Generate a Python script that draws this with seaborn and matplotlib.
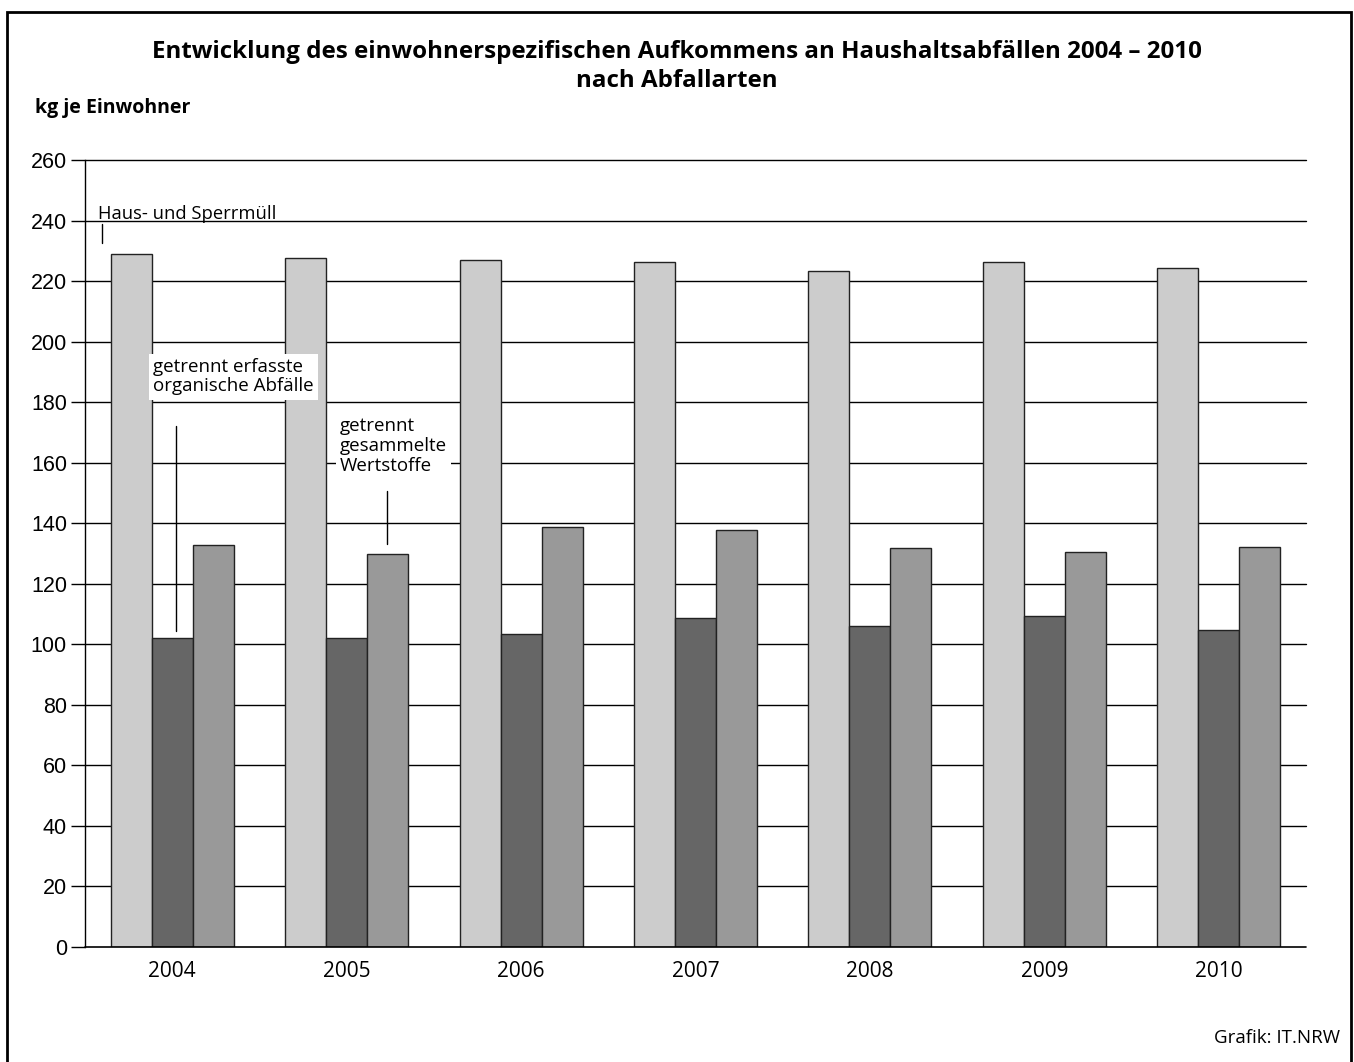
import matplotlib
matplotlib.use("Agg")
import matplotlib.pyplot as plt
import pandas as pd
import seaborn as sns
from matplotlib.patches import Rectangle

# values (kg je Einwohner)
years = ["2004", "2005", "2006", "2007", "2008", "2009", "2010"]
haus_sperrmuell = [229.0, 227.6, 227.0, 226.3, 223.3, 226.3, 224.3]
organisch = [102.0, 102.1, 103.4, 108.7, 106.0, 109.3, 104.7]
wertstoffe = [132.8, 130.0, 138.7, 137.8, 131.8, 130.5, 132.1]
series_names = ["Haus- und Sperrmüll", "getrennt erfasste organische Abfälle",
                "getrennt gesammelte Wertstoffe"]
yticks = list(range(0, 261, 20))

df = pd.DataFrame({
    "Jahr": years * 3,
    "Wert": haus_sperrmuell + organisch + wertstoffe,
    "Art": [series_names[0]] * 7 + [series_names[1]] * 7 + [series_names[2]] * 7,
})

sns.set_style("white")
plt.rcParams["font.family"] = ["Open Sans", "DejaVu Sans"]
plt.rcParams["text.color"] = "black"
plt.rcParams["xtick.color"] = "black"
plt.rcParams["ytick.color"] = "black"

fig = plt.figure(figsize=(13.54, 10.62), dpi=100)
ax = fig.add_axes([85 / 1354, 1 - 947 / 1062, (1306 - 85) / 1354, (947 - 160) / 1062])

palette = {series_names[0]: "#cccccc", series_names[1]: "#666666", series_names[2]: "#999999"}
sns.barplot(data=df, x="Jahr", y="Wert", hue="Art", palette=palette, width=0.705,
            gap=0, edgecolor="#222222", linewidth=1, saturation=1, ax=ax, legend=False, zorder=3)

ax.set_ylim(0, 260)
ax.set_xlim(-0.5, 6.5)
ax.set_yticks(yticks)
ax.set_yticklabels([str(t) for t in yticks], fontsize=15.5, family="Liberation Sans")
ax.tick_params(axis="y", length=10, width=1, color="black", pad=3, left=True)
ax.tick_params(axis="x", length=0, labelsize=15, pad=10)
ax.set_xlabel("")
ax.set_ylabel("")
for t in yticks:
    ax.axhline(t, color="black", lw=1.2 if t == 0 else 1, zorder=1 if t else 4, clip_on=False)
for s in ["top", "right", "bottom"]:
    ax.spines[s].set_visible(False)
ax.spines["left"].set_color("black")
ax.spines["left"].set_linewidth(1)

# annotations
ax.text(-0.425, 239.3, "Haus- und Sperrmüll", fontsize=13.2, va="bottom", ha="left")
ax.plot([-0.40, -0.40], [232.5, 238.8], color="black", lw=1)

ax.text(-0.11, 182.2, "getrennt erfasste\norganische Abfälle", fontsize=13.5, va="bottom",
        ha="left", linespacing=1.12, zorder=5,
        bbox=dict(facecolor="white", edgecolor="none", pad=3))
ax.plot([0.02, 0.02], [104.5, 172], color="black", lw=1, zorder=4)

ax.text(0.96, 155.8, "getrennt\ngesammelte\nWertstoffe", fontsize=13.5, va="bottom",
        ha="left", linespacing=1.15, zorder=5,
        bbox=dict(facecolor="white", edgecolor="none", pad=3))
ax.plot([1.23, 1.23], [133.2, 150.7], color="black", lw=1, zorder=4)

# title, two lines placed on their own baselines
fig.text(0.5, 1 - 58 / 1062, "Entwicklung des einwohnerspezifischen Aufkommens an Haushaltsabfällen 2004 – 2010",
         ha="center", va="baseline", fontsize=17.4, fontweight="bold")
fig.text(0.5, 1 - 87 / 1062, "nach Abfallarten",
         ha="center", va="baseline", fontsize=17.4, fontweight="bold")
fig.text(35 / 1354, 1 - 113 / 1062, "kg je Einwohner", ha="left", va="baseline",
         fontsize=14, fontweight="bold")
fig.text(1340 / 1354, 1 - 1047 / 1062, "Grafik: IT.NRW", ha="right", va="bottom", fontsize=13.5)

# outer frame
fig.patches.append(Rectangle((7 / 1354, -0.01), (1351 - 7) / 1354, 1 - 12 / 1062 + 0.01,
                             transform=fig.transFigure, fill=False, edgecolor="black", lw=2))

fig.savefig("out.png", dpi=100)
